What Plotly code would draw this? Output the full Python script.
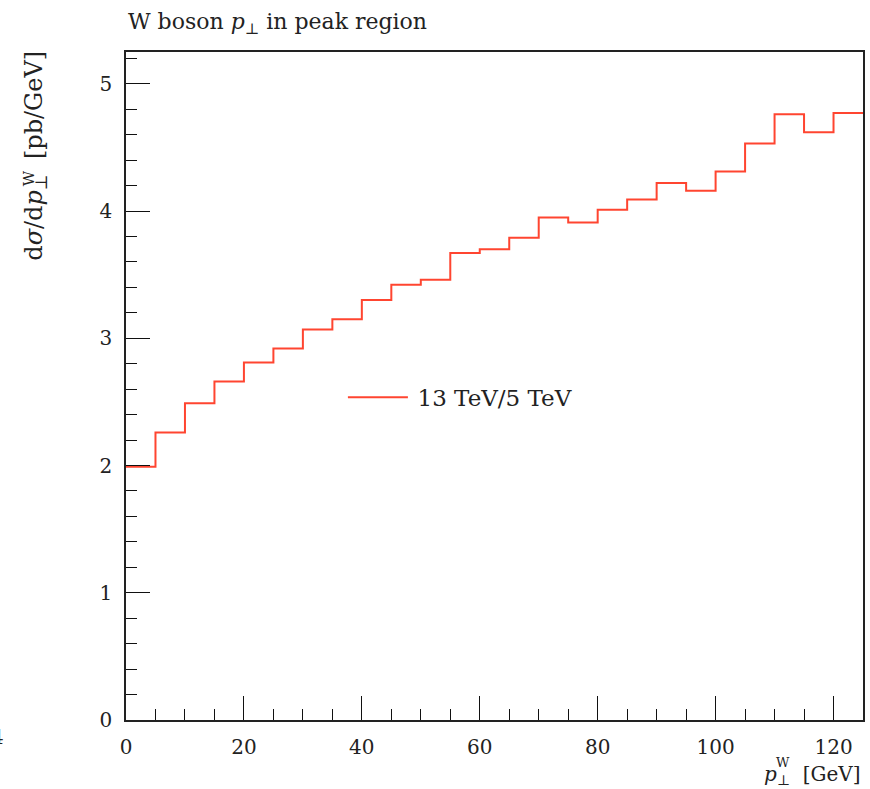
import plotly.graph_objects as go

# Bin edges in W boson transverse momentum [GeV]
bin_edges = [0, 5, 10, 15, 20, 25, 30, 35, 40, 45, 50, 55, 60, 65, 70, 75,
             80, 85, 90, 95, 100, 105, 110, 115, 120, 125]
# Ratio 13 TeV / 5 TeV per bin
ratio_values = [1.99, 2.26, 2.49, 2.66, 2.81, 2.92, 3.07, 3.15, 3.30, 3.42,
                3.46, 3.67, 3.70, 3.79, 3.95, 3.91, 4.01, 4.09, 4.22, 4.16,
                4.31, 4.53, 4.76, 4.62, 4.77]
series_name = "13 TeV/5 TeV"

x_ticks = [0, 20, 40, 60, 80, 100, 120]
y_ticks = [0, 1, 2, 3, 4, 5]

FONT = "DejaVu Serif"
TXT = "#222"
LINE_COLOR = "#ff4530"

fig = go.Figure()
fig.add_trace(go.Scatter(
    x=bin_edges,
    y=ratio_values + [ratio_values[-1]],
    mode="lines",
    line=dict(shape="hv", color=LINE_COLOR, width=2),
    name="\u2009" + series_name,
))

axis_common = dict(
    showgrid=False,
    zeroline=False,
    showline=True,
    linecolor="#222",
    linewidth=1.6,
    mirror=True,
    ticks="inside",
    tickcolor="#111",
    tickwidth=1.4,
    ticklen=24,
    tickfont=dict(family=FONT, size=20, color=TXT),
)

fig.update_xaxes(
    range=[0, 125],
    tickvals=x_ticks,
    minor=dict(dtick=5, tick0=0, ticks="inside", ticklen=11,
               tickcolor="#111", tickwidth=1.4),
    ticklabelstandoff=8,
    **axis_common,
)
fig.update_yaxes(
    range=[0, 5.25],
    tickvals=y_ticks,
    minor=dict(dtick=0.2, tick0=0, ticks="inside", ticklen=11,
               tickcolor="#111", tickwidth=1.4),
    ticklabelstandoff=8,
    **axis_common,
)


def f(size):
    return dict(family=FONT, size=size, color=TXT)


fig.update_layout(
    width=870,
    height=789,
    margin=dict(l=126, r=5, t=52, b=69),
    paper_bgcolor="white",
    plot_bgcolor="white",
    showlegend=True,
    legend=dict(
        x=0.2943, y=0.483, xanchor="left", yanchor="middle",
        bgcolor="rgba(0,0,0,0)",
        font=f(23),
        itemwidth=60,
    ),
    font=dict(family=FONT, color=TXT),
    annotations=[
        # plot title
        dict(text="W boson <i>p</i><sub>\u22a5</sub> in peak region",
             xref="paper", yref="paper", x=0.0, y=1.0,
             xanchor="left", yanchor="bottom", yshift=12,
             showarrow=False, font=f(22)),
        # y-axis title (superscript W stacked over the perp subscript)
        dict(text="d<i>σ</i>/d<i>p</i><sub>\u22a5</sub>  [pb/GeV]",
             xref="paper", yref="paper", x=-0.122, y=1.005,
             xanchor="center", yanchor="top", textangle=-90,
             showarrow=False, font=f(24)),
        dict(text="W", xref="paper", yref="paper",
             x=(29 - 126) / 739, y=(720 - 178) / 668,
             xanchor="center", yanchor="middle", textangle=-90,
             showarrow=False, font=f(15)),
        # x-axis title
        dict(text="<i>p</i><sub>\u22a5</sub>  [GeV]",
             xref="paper", yref="paper", x=1.0, y=-0.06,
             xanchor="right", yanchor="top",
             showarrow=False, font=f(20)),
        dict(text="W", xref="paper", yref="paper",
             x=(785 - 126) / 739, y=(720 - 762) / 668,
             xanchor="center", yanchor="middle",
             showarrow=False, font=f(13)),
        dict(text="4",
             xref="paper", yref="paper", x=(6 - 126) / 739, y=-0.026,
             xanchor="right", yanchor="middle",
             showarrow=False, font=f(20)),
    ],
)

fig.write_html("out.html")
